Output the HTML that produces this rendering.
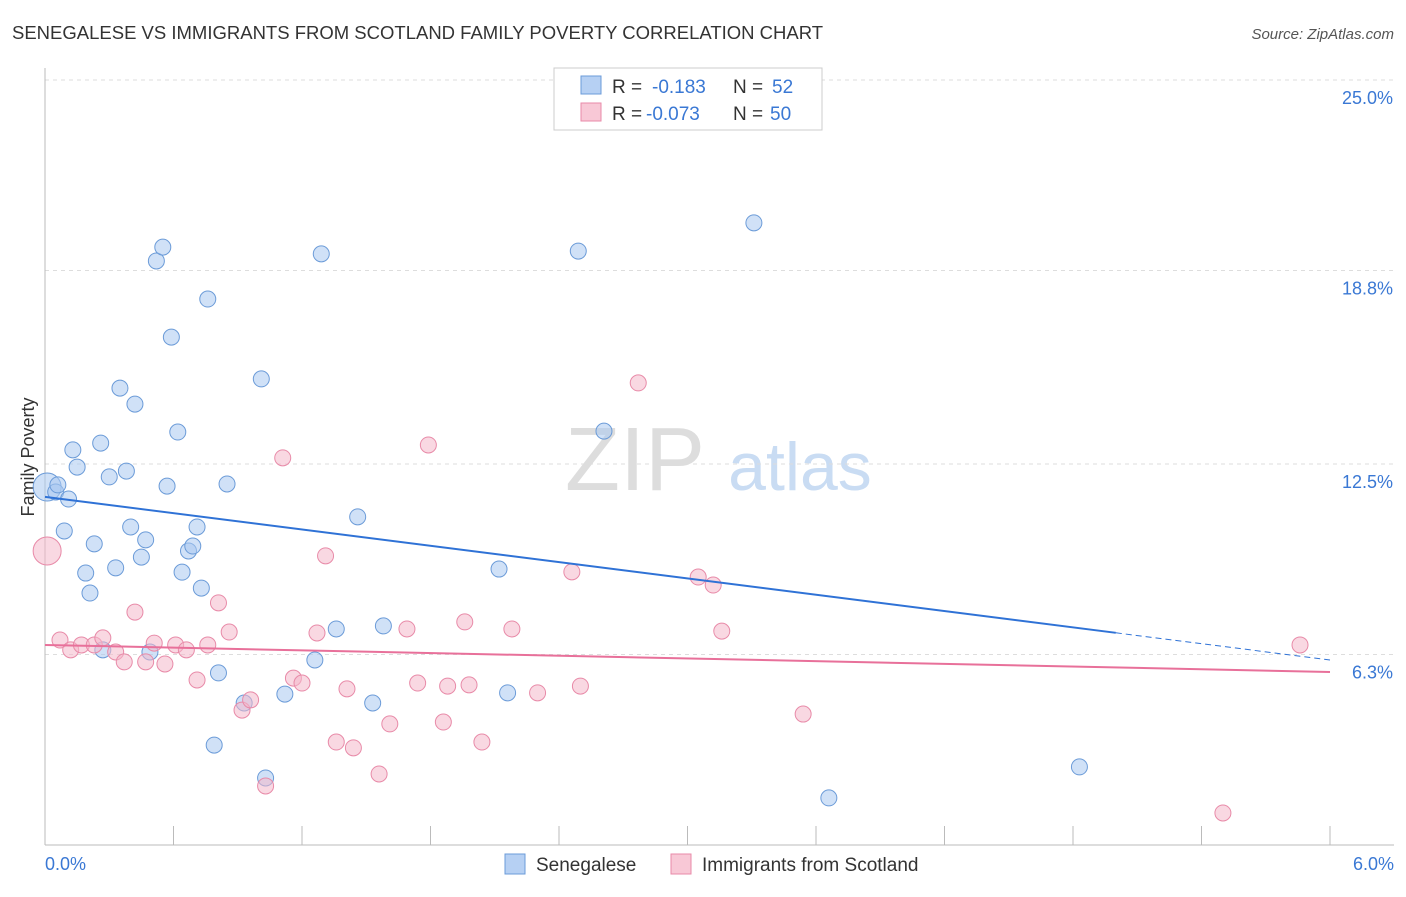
<!DOCTYPE html>
<html><head><meta charset="utf-8">
<style>
body{margin:0;background:#fff;font-family:"Liberation Sans",sans-serif;}
svg text{font-family:"Liberation Sans",sans-serif;}
</style></head>
<body>
<svg id="chart" width="1406" height="892" viewBox="0 0 1406 892" xmlns="http://www.w3.org/2000/svg">
<text x="12" y="39" font-size="18.5" fill="#333">SENEGALESE VS IMMIGRANTS FROM SCOTLAND FAMILY POVERTY CORRELATION CHART</text>
<text x="1394" y="39" font-size="15" fill="#555" font-style="italic" text-anchor="end">Source: ZipAtlas.com</text>
<text x="34" y="457" font-size="18" fill="#333" text-anchor="middle" transform="rotate(-90 34 457)">Family Poverty</text>
<g>
<text x="635" y="490" font-size="90" fill="#ddd" font-family="Liberation Serif" text-anchor="middle">ZIP</text>
<text x="800" y="490" font-size="68" fill="#c9dcf3" text-anchor="middle">atlas</text>
</g>
<g id="grid"></g><g id="axes"></g><g id="pts"></g><g id="trend"></g>
<g>
<rect x="554" y="68" width="268" height="62" fill="#fff" stroke="#ccc"/>
<rect x="581" y="76" width="20" height="18" fill="#b6d0f3" stroke="#6b9bd8"/>
<text x="612" y="93" font-size="19" fill="#333">R = </text><text x="652" y="93" font-size="19" fill="#3a78d4">-0.183</text>
<text x="733" y="93" font-size="19" fill="#333">N = </text><text x="772" y="93" font-size="19" fill="#3a78d4">52</text>
<rect x="581" y="103" width="20" height="18" fill="#f8c8d6" stroke="#e88aa8"/>
<text x="612" y="120" font-size="19" fill="#333">R = </text><text x="646" y="120" font-size="19" fill="#3a78d4">-0.073</text>
<text x="733" y="120" font-size="19" fill="#333">N = </text><text x="770" y="120" font-size="19" fill="#3a78d4">50</text>
</g>
<g>
<rect x="505" y="854" width="20" height="20" fill="#b6d0f3" stroke="#6b9bd8"/>
<text x="536" y="871" font-size="19" fill="#333">Senegalese</text>
<rect x="671" y="854" width="20" height="20" fill="#f8c8d6" stroke="#e88aa8"/>
<text x="702" y="871" font-size="19" fill="#333">Immigrants from Scotland</text>
</g>
</svg>
<script>
const yTicks=[25.0,18.8,12.5,6.3];
const yTickLabels=["25.0%","18.8%","12.5%","6.3%"];
const xTickLabels=["0.0%","6.0%"];
const blueX=[.01,.05,.06,.09,.11,.13,.15,.19,.21,.23,.26,.27,.30,.33,.35,.38,.40,.42,.45,.47,.49,.52,.55,.57,.59,.62,.64,.67,.69,.71,.73,.76,.79,.81,.85,.93,1.01,1.03,1.12,1.26,1.29,1.36,1.46,1.53,1.58,2.12,2.16,2.49,2.61,3.31,3.66,4.83];
const blueY=[11.75,11.59,11.82,10.32,11.36,12.96,12.40,8.95,8.30,9.90,13.18,6.45,12.08,9.12,14.97,12.27,10.45,14.45,9.47,10.03,6.38,19.11,19.56,11.78,16.63,13.54,8.98,9.67,9.83,10.45,8.46,17.87,3.35,5.70,11.85,4.72,15.27,2.28,5.01,6.12,19.34,7.13,10.78,4.72,7.23,9.08,5.05,19.43,13.57,20.35,1.63,2.64];
const pinkX=[.01,.07,.12,.17,.23,.27,.33,.37,.42,.47,.51,.56,.61,.66,.71,.76,.81,.86,.92,.96,1.11,1.16,1.20,1.27,1.31,1.36,1.41,1.44,1.56,1.61,1.69,1.74,1.79,1.86,1.88,1.96,1.98,2.04,2.18,2.30,2.46,2.50,2.77,3.05,3.12,3.16,3.54,5.50,5.86,1.03];
const pinkY=[9.67,6.77,6.45,6.61,6.61,6.84,6.38,6.06,7.68,6.06,6.67,5.99,6.61,6.45,5.47,6.61,7.98,7.03,4.49,4.82,12.70,5.53,5.37,7.00,9.51,3.45,5.18,3.26,2.41,4.04,7.13,5.37,13.12,4.10,5.27,7.36,5.31,3.45,7.13,5.05,8.99,5.27,15.14,8.82,8.56,7.06,4.36,1.14,6.61,2.02];
const blueTrend=[11.43,6.12];
const pinkTrend=[6.61,5.73];
const sx=v=>45+v/6*1285;
const sy=v=>80+(25-v)*30.72;
const NS="http://www.w3.org/2000/svg";
function mk(tag,attrs,parent){const e=document.createElementNS(NS,tag);for(const k in attrs)e.setAttribute(k,attrs[k]);document.getElementById(parent).appendChild(e);return e;}
yTicks.forEach((t,i)=>{
 const l=mk('line',{x1:45,x2:1394,y1:sy(t),y2:sy(t),stroke:'#ddd','stroke-dasharray':'4,4'},'grid');
 
 
 const tx=mk('text',{x:1393,y:sy(t)+24,'font-size':18,fill:'#3a78d4','text-anchor':'end'},'grid');
 tx.textContent=yTickLabels[i];
 
 
});
let ax=mk('line',{x1:45,x2:45,y1:68,y2:845,stroke:'#bbb'},'axes');


ax=mk('line',{x1:45,x2:1394,y1:845,y2:845,stroke:'#bbb'},'axes');


for(let i=0;i<=10;i++){
 const tk=mk('line',{x1:sx(i*0.6),x2:sx(i*0.6),y1:826,y2:845,stroke:'#bbb'},'axes');
 
 
}
[[0,'start',45],[6,'end',1394]].forEach((d,i)=>{
 const tx=mk('text',{x:d[2],y:870,'font-size':18,fill:'#3a78d4','text-anchor':d[1]},'axes');
 tx.textContent=xTickLabels[i];
 
 
});
function pts(X,Y,fill,stroke,name){
 X.forEach((x,i)=>{
  const big=(i===0);
  const c=mk('circle',{cx:sx(x),cy:sy(Y[i]),r:big?14:8,fill:fill,'fill-opacity':0.55,stroke:stroke,'stroke-width':1},'pts');
  
  
 });
}
pts(blueX,blueY,'#a9c8f0','#6b9bd8','senegalese-point');
pts(pinkX,pinkY,'#f4b8cb','#e88aa8','scotland-point');
const bAt=x=>blueTrend[0]+(blueTrend[1]-blueTrend[0])*x/6;
let tl=mk('line',{x1:sx(0),y1:sy(bAt(0)),x2:sx(5),y2:sy(bAt(5)),stroke:'#2f72d6','stroke-width':2},'trend');


tl=mk('line',{x1:sx(5),y1:sy(bAt(5)),x2:sx(6),y2:sy(bAt(6)),stroke:'#2f72d6','stroke-width':1,'stroke-dasharray':'6,4'},'trend');


tl=mk('line',{x1:sx(0),y1:sy(pinkTrend[0]),x2:sx(6),y2:sy(pinkTrend[1]),stroke:'#e8709a','stroke-width':2},'trend');


</script>
</body></html>
